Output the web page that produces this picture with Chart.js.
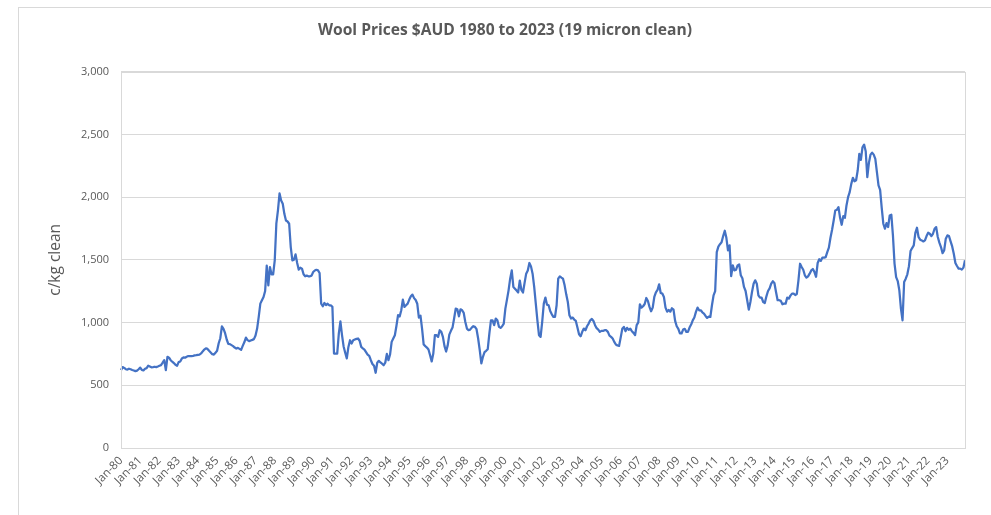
<!DOCTYPE html>
<html>
<head>
<meta charset="utf-8">
<script src="https://cdn.jsdelivr.net/npm/chart.js@4/dist/chart.umd.min.js"></script>
<style>
  html, body { margin: 0; padding: 0; background: #ffffff; }
  #frame { position: absolute; left: 18px; top: 7px; width: 1200px; height: 800px;
           border-left: 1px solid #d9d9d9; border-top: 1px solid #d9d9d9; }
  #wrap { position: absolute; left: 19px; top: 8px; width: 972px; height: 507px; }
</style>
</head>
<body>
<div id="frame"></div>
<div id="wrap"><canvas id="c" width="972" height="507"></canvas></div>
<script>
// ---- data (monthly, c/kg clean, 19 micron) ----
const years = ['80','81','82','83','84','85','86','87','88','89','90','91','92','93','94','95','96','97','98','99',
  '00','01','02','03','04','05','06','07','08','09','10','11','12','13','14','15','16','17','18','19','20','21','22','23'];
const months = ['Jan','Feb','Mar','Apr','May','Jun','Jul','Aug','Sep','Oct','Nov','Dec'];
const yTicks = [0, 500, 1000, 1500, 2000, 2500, 3000];

const p1980 = [621, 645, 638, 628, 625, 632, 628, 622, 618, 613, 617, 628];
const p1981 = [641, 622, 618, 632, 637, 656, 650, 643, 645, 648, 645, 650];
const p1982 = [656, 661, 680, 700, 621, 727, 720, 700, 688, 677, 663, 656];
const p1983 = [685, 690, 714, 722, 720, 728, 733, 733, 733, 735, 738, 740];
const p1984 = [743, 745, 754, 770, 785, 795, 790, 775, 762, 748, 745, 760];
const p1985 = [775, 835, 875, 970, 950, 915, 865, 830, 828, 820, 812, 801];
const p1986 = [793, 798, 790, 782, 814, 843, 880, 860, 852, 857, 862, 868];
const p1987 = [897, 952, 1045, 1151, 1178, 1204, 1252, 1455, 1297, 1443, 1385, 1385];
const p1988 = [1496, 1788, 1894, 2030, 1974, 1947, 1867, 1814, 1806, 1788, 1602, 1496];
const p1989 = [1501, 1544, 1475, 1422, 1437, 1430, 1385, 1369, 1374, 1369, 1369, 1374];
const p1990 = [1403, 1415, 1421, 1416, 1395, 1150, 1130, 1156, 1140, 1150, 1138, 1138];
const p1991 = [1125, 753, 753, 753, 912, 1010, 900, 810, 760, 714, 806, 859];
const p1992 = [833, 859, 865, 870, 873, 855, 806, 795, 785, 765, 745, 735];
const p1993 = [700, 670, 655, 600, 680, 695, 682, 672, 660, 680, 750, 700];
const p1994 = [745, 846, 873, 899, 975, 1060, 1048, 1098, 1183, 1125, 1138, 1151];
const p1995 = [1183, 1209, 1223, 1195, 1180, 1150, 1040, 1055, 950, 825, 812, 801];
const p1996 = [785, 740, 690, 753, 900, 899, 886, 939, 926, 886, 812, 769];
const p1997 = [818, 904, 934, 960, 1032, 1111, 1106, 1050, 1106, 1098, 1077, 1005];
const p1998 = [952, 939, 944, 960, 971, 966, 947, 873, 780, 674, 727, 764];
const p1999 = [775, 788, 912, 1018, 1018, 979, 1032, 1018, 966, 958, 971, 992];
const p2000 = [1111, 1183, 1257, 1350, 1416, 1284, 1270, 1255, 1240, 1335, 1260, 1240];
const p2001 = [1316, 1390, 1416, 1475, 1448, 1390, 1284, 1151, 1018, 899, 886, 1005];
const p2002 = [1151, 1199, 1143, 1138, 1093, 1066, 1045, 1045, 1138, 1350, 1368, 1358];
const p2003 = [1350, 1297, 1225, 1164, 1058, 1032, 1040, 1024, 1013, 960, 907, 891];
const p2004 = [926, 952, 939, 971, 992, 1018, 1029, 1013, 979, 955, 944, 926];
const p2005 = [934, 934, 939, 939, 926, 896, 886, 873, 846, 825, 817, 814];
const p2006 = [880, 950, 965, 931, 958, 942, 952, 931, 918, 900, 980, 1002];
const p2007 = [1146, 1119, 1130, 1148, 1196, 1172, 1125, 1090, 1119, 1204, 1241, 1260];
const p2008 = [1305, 1236, 1231, 1204, 1119, 1087, 1101, 1087, 1114, 1103, 1013, 971];
const p2009 = [950, 913, 913, 944, 950, 926, 926, 960, 984, 1018, 1040, 1085];
const p2010 = [1119, 1098, 1098, 1082, 1072, 1053, 1037, 1048, 1045, 1138, 1217, 1250];
const p2011 = [1562, 1606, 1625, 1640, 1690, 1732, 1676, 1576, 1616, 1370, 1456, 1416];
const p2012 = [1421, 1456, 1464, 1377, 1353, 1284, 1252, 1178, 1103, 1164, 1244, 1310];
const p2013 = [1337, 1310, 1217, 1199, 1199, 1164, 1156, 1209, 1252, 1273, 1310, 1329];
const p2014 = [1316, 1244, 1178, 1178, 1173, 1146, 1151, 1151, 1199, 1191, 1215, 1231];
const p2015 = [1231, 1220, 1228, 1337, 1469, 1443, 1421, 1377, 1358, 1368, 1390, 1416];
const p2016 = [1427, 1403, 1365, 1475, 1505, 1492, 1518, 1517, 1522, 1562, 1597, 1676];
const p2017 = [1740, 1814, 1894, 1899, 1920, 1835, 1780, 1849, 1835, 1934, 2000, 2040];
const p2018 = [2106, 2154, 2127, 2135, 2212, 2345, 2297, 2398, 2419, 2366, 2159, 2273];
const p2019 = [2339, 2355, 2339, 2305, 2199, 2093, 2058, 1915, 1788, 1748, 1793, 1762];
const p2020 = [1854, 1860, 1695, 1470, 1363, 1331, 1257, 1111, 1018, 1324, 1350, 1385];
const p2021 = [1450, 1570, 1594, 1615, 1715, 1756, 1682, 1661, 1655, 1647, 1655, 1690];
const p2022 = [1716, 1708, 1690, 1708, 1748, 1761, 1682, 1637, 1602, 1554, 1575, 1669];
const p2023 = [1695, 1690, 1647, 1607, 1549, 1475, 1451, 1430, 1430, 1422, 1438, 1496];

const yearly = [p1980,p1981,p1982,p1983,p1984,p1985,p1986,p1987,p1988,p1989,p1990,p1991,p1992,p1993,p1994,
  p1995,p1996,p1997,p1998,p1999,p2000,p2001,p2002,p2003,p2004,p2005,p2006,p2007,p2008,p2009,p2010,p2011,
  p2012,p2013,p2014,p2015,p2016,p2017,p2018,p2019,p2020,p2021,p2022,p2023];

const labels = [];
years.forEach(y => months.forEach(m => labels.push(m + '-' + y)));
const prices = [].concat(...yearly);

const FONT = "'Open Sans', 'DejaVu Sans', sans-serif";
const GRAY = '#595959';
const GRID = '#d9d9d9';

const frameRect = {
  id: 'frameRect',
  afterDatasetsDraw(chart) {
    const a = chart.chartArea, ctx = chart.ctx;
    ctx.save();
    ctx.strokeStyle = GRID;
    ctx.lineWidth = 1;
    ctx.strokeRect(Math.round(a.left) + 0.5, Math.round(a.top) + 0.5,
                   Math.round(a.right - a.left), Math.round(a.bottom - a.top));
    ctx.restore();
  }
};

new Chart(document.getElementById('c'), {
  type: 'line',
  data: {
    labels: labels,
    datasets: [{
      data: prices,
      borderColor: '#4472C4',
      borderWidth: 2.25,
      pointRadius: 0,
      tension: 0,
      borderJoinStyle: 'round',
      fill: false,
      yAxisID: 'y'
    }]
  },
  options: {
    responsive: false,
    animation: false,
    layout: { padding: { left: 0, right: 0, top: 0, bottom: 0 } },
    plugins: {
      legend: { display: false },
      tooltip: { enabled: false },
      title: {
        display: true,
        text: 'Wool Prices $AUD 1980 to 2023 (19 micron clean)',
        color: GRAY,
        font: { family: FONT, size: 15.6, weight: 'bold' },
        padding: { top: 13, bottom: 32 }
      }
    },
    scales: {
      x: {
        type: 'category',
        offset: false,
        grid: { display: false, drawTicks: false },
        border: { display: true, color: GRID },
        ticks: {
          autoSkip: false,
          minRotation: 45,
          maxRotation: 45,
          padding: 6,
          color: GRAY,
          font: { family: FONT, size: 11.5 },
          callback: function(v, i) { return (i % 12 === 0) ? labels[i] : null; }
        },
        afterFit: function(s) { s.height = 67; }
      },
      y: {
        min: 0,
        max: 3000,
        afterBuildTicks: function(s) { s.ticks = yTicks.map(v => ({ value: v })); },
        grid: { color: GRID, drawTicks: false },
        border: { display: false },
        ticks: {
          padding: 12,
          color: GRAY,
          font: { family: FONT, size: 11 },
          callback: function(v) { return v.toLocaleString('en-US'); }
        },
        title: {
          display: true,
          text: 'c/kg clean',
          color: GRAY,
          font: { family: FONT, size: 15.5 },
          padding: { top: 27, bottom: 0 }
        },
        afterFit: function(s) { s.width = 102; }
      },
      yRight: {
        position: 'right',
        min: 0,
        max: 3000,
        grid: { display: false, drawTicks: false },
        border: { display: false },
        ticks: { display: false },
        afterFit: function(s) { s.width = 26; }
      }
    }
  },
  plugins: [frameRect]
});
</script>
</body>
</html>
